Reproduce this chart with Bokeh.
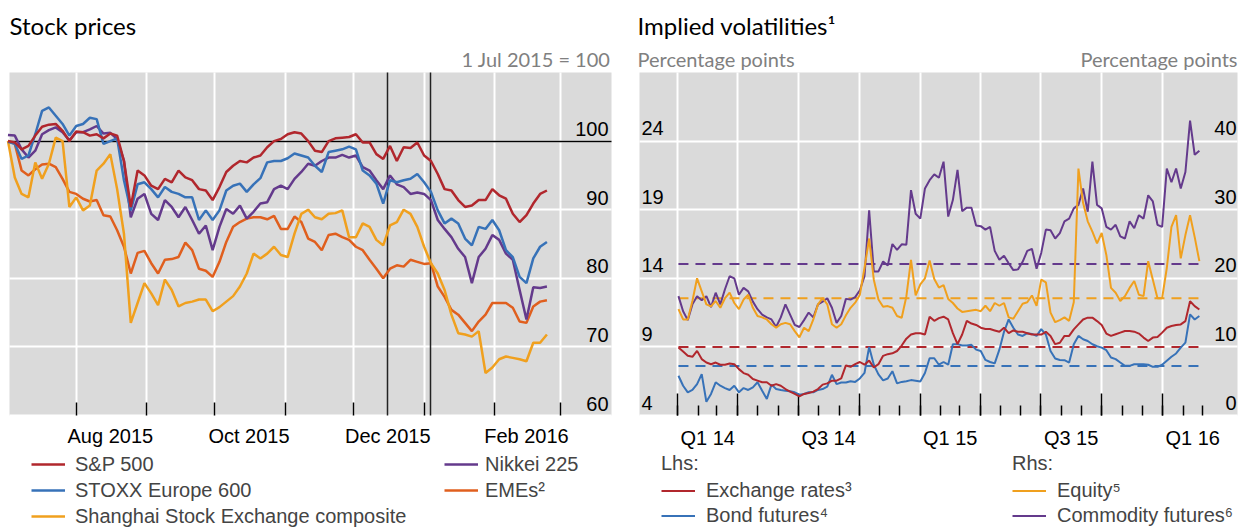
import pandas as pd
from bokeh.plotting import figure
from bokeh.models import (Range1d, FixedTicker, Grid, Label, Legend, LegendItem,
                          BoxAnnotation)
from bokeh.layouts import row
from bokeh.embed import file_html
from bokeh.resources import INLINE

# ---------------- Stock prices (1 Jul 2015 = 100), every 3 days ----------------
stock_dates = pd.date_range("2015-07-02", periods=80, freq="3D")
sp500 = [100.0, 99.8, 98.8, 99.3, 100.8, 102.1, 102.4, 102.5, 101.5, 100.0,
         101.4, 101.3, 100.8, 101.0, 100.4, 101.1, 100.8, 97.1, 90.4, 95.7,
         95.0, 93.5, 93.0, 94.5, 94.0, 95.7, 94.7, 94.3, 93.0, 92.8,
         91.4, 93.3, 95.5, 96.4, 97.1, 96.9, 97.6, 97.9, 99.1, 100.0,
         100.3, 101.0, 101.3, 101.1, 100.0, 98.6, 98.4, 100.0, 100.4, 100.5,
         100.6, 101.0, 99.8, 99.8, 98.1, 97.4, 99.3, 97.1, 99.1, 99.0,
         99.8, 97.9, 97.1, 95.2, 93.0, 92.8, 91.4, 90.4, 90.6, 91.4,
         91.4, 93.0, 92.1, 91.6, 89.4, 88.2, 89.2, 90.9, 92.3, 92.8]
stoxx600 = [99.9, 99.6, 97.4, 97.9, 101.0, 104.4, 104.9, 103.7, 102.5, 100.8,
            102.2, 102.5, 103.4, 103.2, 99.6, 100.0, 100.4, 94.3, 89.9, 93.7,
            94.0, 93.0, 91.8, 93.3, 92.6, 92.3, 91.8, 91.8, 88.5, 89.9,
            88.5, 89.9, 92.8, 93.5, 93.8, 92.6, 93.7, 94.6, 96.9, 97.1,
            97.1, 97.5, 98.2, 97.9, 97.6, 96.4, 95.5, 98.4, 98.6, 98.8,
            99.2, 98.8, 95.7, 95.0, 93.8, 90.9, 94.3, 94.0, 94.3, 94.5,
            95.2, 94.0, 92.6, 89.9, 88.0, 88.7, 88.0, 85.8, 84.8, 87.5,
            87.2, 88.5, 87.0, 84.1, 83.1, 80.2, 79.3, 82.9, 84.6, 85.3]
shanghai = [100.0, 94.7, 92.3, 91.8, 96.9, 94.5, 96.7, 100.5, 100.0, 90.4,
            91.8, 89.9, 90.6, 95.7, 96.7, 98.1, 93.0, 86.5, 73.5, 76.4,
            79.3, 77.8, 76.1, 79.8, 78.3, 75.9, 76.4, 76.6, 76.9, 76.9,
            75.2, 75.8, 76.6, 77.4, 78.8, 80.7, 83.6, 82.9, 83.6, 84.6,
            83.4, 83.1, 86.5, 89.4, 90.0, 88.9, 88.6, 89.4, 89.5, 89.9,
            86.0, 86.0, 88.0, 87.5, 85.6, 84.8, 87.7, 88.2, 90.0, 89.4,
            87.5, 84.6, 82.2, 80.7, 78.3, 74.7, 72.0, 71.8, 71.5, 72.3,
            66.2, 67.0, 68.2, 68.6, 68.4, 68.2, 67.9, 70.6, 70.6, 71.8]
nikkei225 = [100.9, 100.8, 98.8, 97.6, 98.6, 101.0, 101.6, 102.0, 101.3, 100.1,
             101.3, 101.3, 101.7, 102.2, 101.1, 101.2, 100.3, 97.1, 88.9, 91.6,
             92.3, 89.4, 88.5, 91.4, 90.4, 88.9, 90.4, 88.5, 86.5, 87.7,
             84.1, 87.5, 90.1, 89.4, 90.6, 88.7, 89.7, 90.9, 91.1, 93.0,
             93.5, 93.0, 94.5, 95.5, 96.7, 96.4, 97.1, 97.6, 97.6, 98.0,
             97.6, 97.9, 96.2, 95.7, 94.3, 93.0, 95.0, 93.7, 93.3, 92.3,
             92.5, 92.3, 91.4, 88.5, 87.2, 86.0, 84.3, 83.1, 79.3, 83.1,
             84.3, 86.3, 85.6, 83.6, 82.7, 78.3, 74.0, 78.7, 78.6, 78.8]
emes = [100.0, 99.6, 95.7, 95.0, 95.9, 96.6, 96.7, 96.2, 94.5, 92.6,
        92.3, 91.6, 91.2, 91.4, 89.2, 89.0, 87.0, 84.6, 80.7, 83.7,
        84.0, 82.2, 80.7, 82.7, 82.8, 83.1, 85.2, 84.1, 81.4, 81.1,
        80.2, 82.4, 85.3, 87.5, 88.2, 88.7, 88.9, 88.9, 88.6, 89.1,
        87.2, 87.2, 89.0, 88.2, 85.8, 85.3, 84.1, 86.3, 86.5, 86.0,
        85.6, 84.6, 84.1, 82.7, 81.4, 80.0, 81.4, 81.9, 81.7, 82.7,
        82.4, 82.1, 82.2, 78.8, 77.3, 75.4, 74.7, 73.5, 72.3, 73.7,
        74.7, 76.4, 76.4, 76.4, 75.7, 73.7, 73.5, 75.9, 76.6, 76.8]
stock_y_ticks = [60, 70, 80, 90, 100]
stock_tick_labels = ["Aug 2015", "Oct 2015", "Dec 2015", "Feb 2016"]
stock_tick_label_dates = ["2015-08-16", "2015-10-16", "2015-12-16", "2016-02-15"]
stock_month_starts = pd.date_range("2015-08-01", "2016-03-01", freq="MS")
stock_event_dates = ["2015-12-16", "2016-01-04"]

# ---------------- Implied volatilities, weekly ----------------
vol_dates = pd.date_range("2014-01-02", periods=113, freq="7D")
exchange_rates = [8.95, 8.66, 8.35, 8.28, 8.71, 8.11, 7.86, 7.74, 7.86, 7.70,
                  7.70, 7.79, 7.74, 7.38, 7.09, 6.97, 6.66, 6.54, 6.42, 6.42,
                  6.17, 6.29, 6.17, 5.93, 5.74, 5.57, 5.40, 5.57, 5.64, 5.74,
                  5.93, 6.25, 6.34, 6.54, 6.54, 6.70, 7.65, 7.55, 7.75, 7.90,
                  7.70, 8.00, 7.50, 7.74, 8.35, 8.47, 8.53, 8.70, 9.10, 9.60,
                  9.90, 10.00, 10.00, 9.90, 11.20, 10.90, 11.10, 11.20, 11.00, 10.00,
                  9.20, 9.90, 10.90, 10.70, 10.60, 10.40, 10.30, 10.30, 10.20, 10.10,
                  10.40, 10.00, 10.20, 10.10, 10.10, 10.00, 9.90, 9.90, 9.90, 10.10,
                  9.80, 9.20, 9.30, 9.80, 9.80, 10.28, 10.64, 11.00, 11.13, 11.13,
                  10.88, 10.59, 9.97, 9.80, 9.92, 10.04, 10.16, 10.16, 10.11, 9.97,
                  9.68, 9.43, 9.68, 9.72, 10.04, 10.40, 10.52, 10.59, 10.64, 10.88,
                  12.33, 11.97, 11.73]
bond_futures = [6.90, 6.17, 5.69, 5.86, 6.29, 7.02, 5.00, 5.57, 6.42, 6.17,
                6.00, 5.86, 6.17, 5.69, 6.00, 5.86, 6.05, 6.42, 5.81, 5.21,
                6.25, 5.93, 5.86, 5.81, 5.76, 5.69, 5.52, 5.57, 5.69, 5.69,
                5.86, 5.93, 6.10, 6.97, 6.29, 6.40, 6.40, 6.50, 6.45, 6.70,
                7.10, 9.00, 7.70, 7.00, 6.56, 6.70, 7.23, 6.34, 6.45, 6.50,
                6.58, 6.54, 6.48, 7.10, 8.17, 8.17, 7.70, 7.90, 7.70, 9.20,
                9.20, 9.10, 9.10, 9.15, 8.80, 8.70, 8.05, 7.90, 7.80, 8.80,
                10.10, 11.00, 10.40, 9.90, 9.80, 10.00, 9.95, 9.80, 10.30, 9.90,
                8.70, 8.15, 8.05, 8.03, 7.86, 9.19, 9.80, 9.56, 9.43, 9.19,
                9.05, 8.95, 8.76, 8.23, 8.11, 7.86, 7.62, 7.62, 7.74, 7.74,
                7.74, 7.70, 7.55, 7.55, 7.70, 7.99, 8.28, 8.52, 8.95, 9.31,
                11.37, 11.00, 11.25]
equity = [15.5, 14.0, 14.0, 16.7, 20.0, 18.1, 16.2, 15.9, 16.7, 15.7,
          17.1, 17.9, 16.4, 15.5, 16.9, 17.6, 15.7, 14.5, 14.3, 14.0,
          13.3, 12.8, 13.3, 13.5, 13.3, 12.3, 11.4, 12.8, 12.3, 14.0,
          16.2, 17.1, 16.2, 13.3, 12.8, 13.3, 14.6, 15.7, 16.45, 17.6,
          21.5, 25.8, 19.8, 16.9, 15.85, 15.95, 15.7, 14.5, 14.25, 17.35,
          22.7, 17.5, 19.1, 20.0, 22.6, 19.9, 18.65, 19.0, 17.0, 16.4,
          15.6, 15.1, 15.2, 15.3, 15.4, 15.2, 16.0, 15.2, 16.4, 16.0,
          16.4, 14.3, 14.1, 15.2, 16.3, 16.5, 17.5, 16.0, 19.8, 19.4,
          15.0, 13.6, 13.9, 14.3, 13.8, 16.5, 36.0, 31.0, 28.3, 26.8,
          25.1, 26.6, 23.4, 18.6, 17.9, 16.7, 17.4, 18.6, 19.6, 17.6,
          17.4, 22.5, 19.8, 17.1, 17.1, 21.5, 27.5, 29.2, 22.9, 26.3,
          29.2, 26.0, 22.5]
commodity_futures = [17.4, 15.2, 13.9, 16.2, 17.4, 16.8, 17.4, 15.8, 17.9, 16.2,
                     18.4, 20.3, 20.0, 17.6, 18.6, 18.1, 16.6, 15.5, 14.7, 14.3,
                     14.0, 12.9, 14.3, 16.2, 14.7, 13.2, 12.9, 13.9, 15.0, 14.3,
                     16.2, 16.6, 17.1, 15.7, 13.5, 14.5, 17.0, 16.9, 17.25, 18.25,
                     20.3, 29.9, 21.0, 21.0, 22.45, 21.85, 25.0, 24.15, 24.95, 24.9,
                     32.85, 29.4, 28.7, 33.1, 34.3, 35.15, 34.65, 37.0, 29.0, 31.4,
                     35.8, 29.8, 30.3, 30.3, 27.7, 27.6, 27.1, 27.5, 24.0, 22.7,
                     23.3, 22.2, 21.2, 21.3, 22.4, 24.0, 24.3, 21.4, 23.7, 27.1,
                     27.0, 25.8, 26.6, 28.3, 28.7, 30.2, 30.7, 33.1, 29.7, 37.0,
                     30.7, 30.2, 27.5, 27.1, 27.8, 26.1, 25.8, 28.3, 27.3, 29.2,
                     28.7, 32.1, 31.2, 27.8, 27.5, 36.0, 34.0, 36.0, 33.1, 35.5,
                     43.0, 38.0, 38.6]
# long-term averages (dashed lines)
avg_exchange_rates = 9.0
avg_bond_futures = 7.6
avg_equity = 17.1
avg_commodity_futures = 22.1
vol_lhs_ticks = [4, 9, 14, 19, 24]
vol_rhs_ticks = [0, 10, 20, 30, 40]
vol_tick_labels = ["Q1 14", "Q3 14", "Q1 15", "Q3 15", "Q1 16"]
vol_tick_label_dates = ["2014-02-15", "2014-08-16", "2015-02-15", "2015-08-16", "2016-02-15"]
vol_quarter_starts = pd.date_range("2014-01-01", "2016-01-01", freq="QS")
vol_month_starts = pd.date_range("2014-01-01", "2016-03-01", freq="MS")

# ---------------- styling / layout ----------------
RED, BLUE, AMBER, PURPLE, ORANGE = "#b1272d", "#3772b8", "#f0a01e", "#643a8c", "#e05f1e"
BG = "#dadada"
AX_FONT = "Liberation Sans"
TITLE_FONT = "Lato"
FS = "20px"
H = 529                     # figure height (px)
TOP, BOTTOM = 72, 415       # plot-area rows (px from top)


def ms(d):
    return int(pd.Timestamp(d).value // 10**6)


def make_fig(width, x_start, x_end, y_start, y_end, **kw):
    p = figure(width=width, height=H, x_range=Range1d(ms(x_start), ms(x_end)),
               y_range=Range1d(y_start, y_end), x_axis_location=None, y_axis_location=None,
               toolbar_location=None, tools="", output_backend="svg", min_border=0, **kw)
    p.min_border_left = p.min_border_right = p.min_border_top = p.min_border_bottom = 0
    p.background_fill_color = "white"
    p.border_fill_color = "white"
    p.outline_line_color = None
    p.center = [r for r in p.center if not isinstance(r, Grid)]
    return p


def grid(p, dim, ticks, extent, color, width, **kw):
    p.add_layout(Grid(dimension=dim, ticker=FixedTicker(ticks=list(ticks), minor_ticks=[]),
                      cross_bounds=extent, grid_line_color=color, grid_line_width=width, **kw))


def text_label(p, x, y, text, **kw):
    opts = dict(text_font=AX_FONT, text_font_size=FS, text_color="black")
    opts.update(kw)
    p.add_layout(Label(x=x, y=y, text=text, **opts))


leg_kw = dict(orientation="vertical", glyph_width=34, padding=0, margin=0,
              border_line_color=None, background_fill_alpha=0, spacing=0,
              label_text_font=AX_FONT, label_text_font_size=FS)

# ================= Left panel =================
W1 = 624
PXD1 = 2.274                       # px per day
PXU1 = (BOTTOM - TOP) / 50         # px per index point
g1_x0 = pd.Timestamp("2015-07-02 16:00")
x1_start = g1_x0 - pd.Timedelta(days=9 / PXD1)
x1_end = x1_start + pd.Timedelta(days=W1 / PXD1)
g1_x1 = x1_start + pd.Timedelta(days=611 / PXD1)
p1 = make_fig(W1, x1_start, x1_end, 60 - (H - BOTTOM) / PXU1, 110 + TOP / PXU1)

gb1 = (ms(g1_x0), ms(g1_x1))
p1.add_layout(BoxAnnotation(left=gb1[0], right=gb1[1], bottom=60, top=110, fill_color=BG,
                            fill_alpha=1, line_color=None, level="underlay"))
grid(p1, 0, [ms(d) for d in stock_month_starts], (60, 110), "white", 2)
grid(p1, 1, stock_y_ticks, gb1, "white", 2)
grid(p1, 1, [100], gb1, "black", 1.5)
grid(p1, 0, [ms(d) for d in stock_event_dates], (60, 110), "#222222", 1.5)
grid(p1, 0, [ms(d) for d in stock_month_starts], (60, 60 + 13 / PXU1), "black", 1.5)

r_eme = p1.line(stock_dates, emes, line_color=ORANGE, line_width=2.5)
r_sh = p1.line(stock_dates, shanghai, line_color=AMBER, line_width=2.5)
r_nk = p1.line(stock_dates, nikkei225, line_color=PURPLE, line_width=2.5)
r_sx = p1.line(stock_dates, stoxx600, line_color=BLUE, line_width=2.5)
r_sp = p1.line(stock_dates, sp500, line_color=RED, line_width=2.5)

for d, t in zip(stock_tick_label_dates, stock_tick_labels):
    text_label(p1, ms(d), 60, t, y_offset=-20, text_align="center", text_baseline="middle")
for v in stock_y_ticks:
    text_label(p1, gb1[1], v, str(v), x_offset=-3, y_offset=12, text_align="right",
               text_baseline="middle")
text_label(p1, gb1[0], 110, "Stock prices", y_offset=47, text_baseline="middle",
           text_font=TITLE_FONT, text_font_size="24px")
text_label(p1, gb1[1], 110, "1 Jul 2015 = 100", x_offset=-1, y_offset=14,
           text_align="right", text_baseline="middle", text_font=TITLE_FONT,
           text_font_size="20px", text_color="#808080")

leg_a = Legend(items=[LegendItem(label="S&P 500", renderers=[r_sp]),
                      LegendItem(label="STOXX Europe 600", renderers=[r_sx]),
                      LegendItem(label="Shanghai Stock Exchange composite", renderers=[r_sh])],
               location=(31, 0), label_height=26, glyph_height=26, label_standoff=10, **leg_kw)
leg_b = Legend(items=[LegendItem(label="Nikkei 225", renderers=[r_nk]),
                      LegendItem(label="EMEs\u00b2", renderers=[r_eme])],
               location=(444, 26), label_height=26, glyph_height=26, label_standoff=7, **leg_kw)
p1.add_layout(leg_a)
p1.add_layout(leg_b)

# ================= Right panel =================
W2 = 614
PXD2 = 0.6644                      # px per day
PXU2 = (BOTTOM - TOP) / 25         # px per lhs point
x2_start = pd.Timestamp("2014-01-01") - pd.Timedelta(days=(677.3 - 624) / PXD2)
x2_end = x2_start + pd.Timedelta(days=W2 / PXD2)
g2_x0 = x2_start + pd.Timedelta(days=15 / PXD2)
g2_x1 = x2_start + pd.Timedelta(days=613 / PXD2)
p2 = make_fig(W2, x2_start, x2_end, 4 - (H - BOTTOM) / PXU2, 29 + TOP / PXU2,
              extra_y_ranges={"rhs": Range1d(0 - (H - BOTTOM) / (PXU2 / 2),
                                             50 + TOP / (PXU2 / 2))})

gb2 = (ms(g2_x0), ms(g2_x1))
p2.add_layout(BoxAnnotation(left=gb2[0], right=gb2[1], bottom=4, top=29, fill_color=BG,
                            fill_alpha=1, line_color=None, level="underlay"))
grid(p2, 0, [ms(d) for d in vol_quarter_starts], (4, 29), "white", 2)
grid(p2, 1, vol_lhs_ticks, gb2, "white", 2)
grid(p2, 0, [ms(d) for d in vol_quarter_starts], (4, 4 + 22 / PXU2), "black", 1.5)
grid(p2, 0, [ms(d) for d in vol_month_starts], (4, 4 + 10 / PXU2), "black", 1.5)

dash = "10 7"
ends = [vol_dates[0], vol_dates[-1]]
p2.line(ends, [avg_commodity_futures] * 2, y_range_name="rhs", line_color=PURPLE,
        line_width=2, line_dash=dash)
p2.line(ends, [avg_equity] * 2, y_range_name="rhs", line_color=AMBER, line_width=2,
        line_dash=dash)
p2.line(ends, [avg_exchange_rates] * 2, line_color=RED, line_width=2, line_dash=dash)
p2.line(ends, [avg_bond_futures] * 2, line_color=BLUE, line_width=2, line_dash=dash)

r_cf = p2.line(vol_dates, commodity_futures, y_range_name="rhs", line_color=PURPLE, line_width=2)
r_eq = p2.line(vol_dates, equity, y_range_name="rhs", line_color=AMBER, line_width=2)
r_bf = p2.line(vol_dates, bond_futures, line_color=BLUE, line_width=2)
r_fx = p2.line(vol_dates, exchange_rates, line_color=RED, line_width=2)

for d, t in zip(vol_tick_label_dates, vol_tick_labels):
    text_label(p2, ms(d), 4, t, y_offset=-22, text_align="center", text_baseline="middle")
for v in vol_lhs_ticks:
    text_label(p2, gb2[0], v, str(v), x_offset=2, y_offset=13, text_align="left",
               text_baseline="middle")
for v in vol_rhs_ticks:
    text_label(p2, gb2[1], v, str(v), x_offset=-1, y_offset=13, text_align="right",
               text_baseline="middle", y_range_name="rhs")
text_label(p2, gb2[0], 29, "Implied volatilities\u00b9", x_offset=-2, y_offset=47,
           text_baseline="middle", text_font=TITLE_FONT, text_font_size="24px")
text_label(p2, gb2[0], 29, "Percentage points", x_offset=-2, y_offset=14,
           text_baseline="middle", text_font=TITLE_FONT, text_font_size="20px",
           text_color="#808080")
text_label(p2, gb2[1], 29, "Percentage points", x_offset=0, y_offset=14,
           text_align="right", text_baseline="middle", text_font=TITLE_FONT,
           text_font_size="20px", text_color="#808080")

leg_title_kw = dict(title_text_font=AX_FONT, title_text_font_size=FS,
                    title_text_font_style="normal", title_standoff=3,
                    label_height=25, glyph_height=25, label_standoff=11)
leg_c = Legend(title="Lhs:", items=[LegendItem(label="Exchange rates\u00b3", renderers=[r_fx]),
                                    LegendItem(label="Bond futures\u2074", renderers=[r_bf])],
               location=(37, 1), **leg_title_kw, **leg_kw)
leg_d = Legend(title="Rhs:", items=[LegendItem(label="Equity\u2075", renderers=[r_eq]),
                                    LegendItem(label="Commodity futures\u2076", renderers=[r_cf])],
               location=(388, 1), **leg_title_kw, **leg_kw)
p2.add_layout(leg_c)
p2.add_layout(leg_d)

layout = row(p1, p2)
open("out.html", "w").write(file_html(layout, INLINE))
